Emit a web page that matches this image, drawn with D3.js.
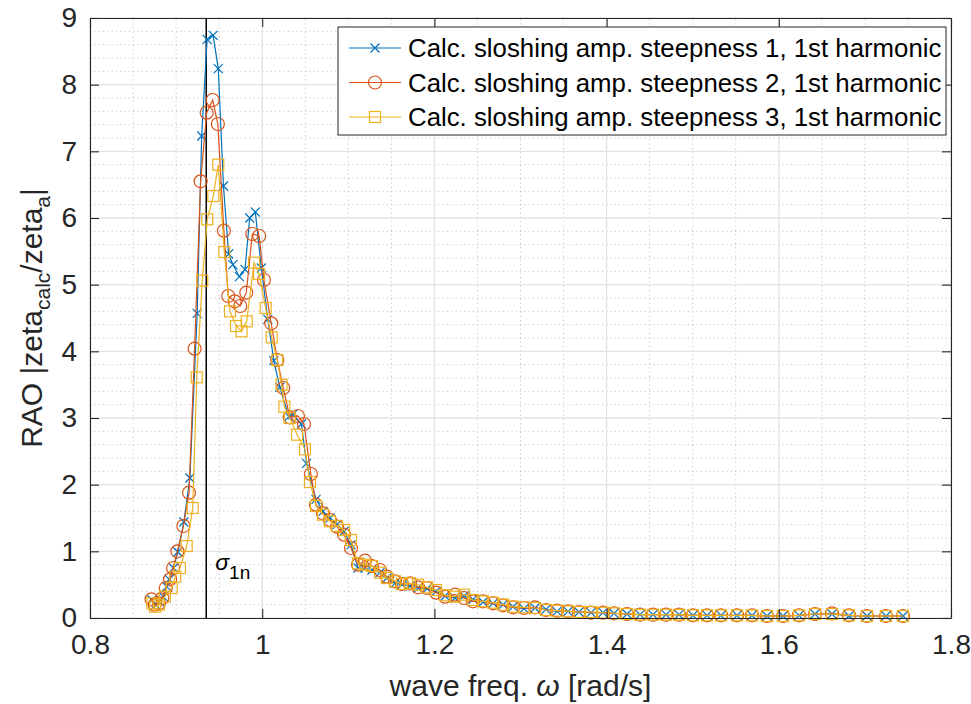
<!DOCTYPE html>
<html>
<head>
<meta charset="utf-8">
<script src="https://cdn.jsdelivr.net/npm/d3@7"></script>
<style>
body{margin:0;background:#fff}
text{font-family:"Liberation Sans",Arial,Helvetica,sans-serif;fill:#262626}
</style>
</head>
<body>
<script>
// frequencies shared by all three runs above ~1.06 rad/s
var tailX = [1.0625,1.0706,1.0787,1.0869,1.0950,1.1031,1.1113,1.1194,1.1275,1.1368,
	1.1449,1.1542,1.1624,1.1717,1.1810,1.1914,1.2019,1.2123,1.2239,1.2344,
	1.2448,1.2564,1.2681,1.2797,1.2913,1.3041,1.3168,1.3296,1.3424,1.3552,
	1.3679,1.3819,1.3958,1.4086,1.4237,1.4388,1.4539,1.4690,1.4841,1.5003,
	1.5166,1.5329,1.5515,1.5689,1.5863,1.6049,1.6235,1.6420,1.6618,1.6815,
	1.7024,1.7245,1.7443]

var s1HeadX = [0.872,0.876,0.881,0.885,0.889,0.892,0.897,0.902,0.909,0.916,
	0.9245,0.9297,0.936,0.943,0.949,0.955,0.961,0.966,0.9735,0.98,
	0.9855,0.992,0.999,1.0065,1.0135,1.0205,1.031,1.0355,1.0455,1.0515]
var s1HeadY = [0.27,0.2,0.24,0.32,0.47,0.58,0.75,0.99,1.44,2.1,
	4.57,7.23,8.68,8.74,8.24,6.48,5.46,5.3,5.12,5.23,
	6.0,6.09,5.25,4.48,3.86,3.46,3.02,3.05,2.91,2.32]
var s1TailY = [1.78,1.6,1.5,1.4,1.3,1.1,0.75,0.75,0.72,0.68,
	0.6,0.52,0.5,0.48,0.45,0.44,0.4,0.33,0.3,0.33,
	0.28,0.24,0.22,0.2,0.17,0.14,0.15,0.13,0.1,0.1,
	0.09,0.08,0.08,0.07,0.06,0.05,0.05,0.05,0.05,0.04,
	0.04,0.04,0.04,0.04,0.03,0.03,0.04,0.06,0.06,0.03,
	0.03,0.03,0.03]

var s2HeadX = [0.8715,0.875,0.88,0.884,0.888,0.893,0.8965,0.9015,0.9085,0.915,
	0.9215,0.9285,0.9355,0.9425,0.9485,0.9555,0.9605,0.968,0.9745,0.9815,
	0.9885,0.9965,1.002,1.0105,1.0175,1.0245,1.032,1.0415,1.0485,1.0565]
var s2HeadY = [0.28,0.2,0.22,0.3,0.45,0.58,0.75,1.0,1.38,1.88,
	4.04,6.55,7.58,7.77,7.41,5.81,4.83,4.75,4.68,4.88,
	5.76,5.73,5.07,4.42,3.87,3.45,3.01,3.03,2.91,2.16]
var s2TailY = [1.7,1.57,1.47,1.37,1.25,1.05,0.8,0.86,0.78,0.72,
	0.62,0.55,0.51,0.52,0.46,0.45,0.38,0.32,0.35,0.3,
	0.25,0.25,0.22,0.19,0.16,0.15,0.16,0.12,0.11,0.1,
	0.09,0.08,0.08,0.07,0.06,0.05,0.05,0.05,0.05,0.04,
	0.04,0.04,0.04,0.04,0.03,0.03,0.04,0.06,0.07,0.04,
	0.03,0.03,0.03]

var s3HeadX = [0.8725,0.8755,0.88,0.887,0.8949,0.899,0.9045,0.9123,0.9193,0.924,
	0.9304,0.9362,0.9432,0.949,0.956,0.9626,0.9696,0.976,0.982,0.9905,
	0.9963,1.004,1.011,1.0175,1.0225,1.0257,1.032,1.0405,1.0497,1.0555]
var s3HeadY = [0.22,0.17,0.2,0.32,0.45,0.62,0.75,1.08,1.65,3.61,
	5.06,5.98,6.33,6.8,5.49,4.6,4.38,4.3,4.45,5.33,
	5.16,4.65,4.21,3.87,3.5,3.17,3.0,2.75,2.53,2.04]
var s3TailY = [1.68,1.55,1.45,1.38,1.32,1.17,0.82,0.8,0.78,0.68,
	0.6,0.55,0.51,0.52,0.5,0.46,0.42,0.34,0.32,0.35,
	0.27,0.25,0.23,0.2,0.17,0.16,0.15,0.12,0.11,0.1,
	0.09,0.09,0.08,0.07,0.06,0.05,0.05,0.05,0.05,0.04,
	0.04,0.04,0.04,0.04,0.03,0.03,0.04,0.06,0.06,0.04,
	0.03,0.03,0.03]

var seriesNames = ['Calc. sloshing amp. steepness 1, 1st harmonic',
	'Calc. sloshing amp. steepness 2, 1st harmonic',
	'Calc. sloshing amp. steepness 3, 1st harmonic']
var seriesColors = ['#0072BD','#D95319','#EDB120']
var seriesMarkers = ['cross','circle','square']

var xTicks = [0.8,1,1.2,1.4,1.6,1.8]
var yTicks = [0,1,2,3,4,5,6,7,8,9]
var sigma1n = 0.935

var WIDTH = 971, HEIGHT = 704
var margin = {top:18, right:20, bottom:86, left:90}
var plotW = WIDTH - margin.left - margin.right,
	plotH = HEIGHT - margin.top - margin.bottom

var x = d3.scaleLinear().domain([0.8,1.8]).range([margin.left, margin.left+plotW])
var y = d3.scaleLinear().domain([0,9]).range([margin.top+plotH, margin.top])

function zip(xs, ys){
	return xs.map(function(v,i){ return {x:v, y:ys[i]} })
}
var series = [
	zip(s1HeadX.concat(tailX), s1HeadY.concat(s1TailY)),
	zip(s2HeadX.concat(tailX), s2HeadY.concat(s2TailY)),
	zip(s3HeadX.concat(tailX), s3HeadY.concat(s3TailY))
]

var svg = d3.select('body').append('svg')
	.attr('width',WIDTH).attr('height',HEIGHT)

// grid, minor first (dotted), then major
var grid = svg.append('g')
var minorX = d3.range(0.8,1.8001,0.05).filter(function(d){ return Math.abs(d*5-Math.round(d*5))>1e-6 })
var minorY = d3.range(0,9.0001,0.2).filter(function(d){ return Math.abs(d-Math.round(d))>1e-6 })
grid.selectAll('.mx').data(minorX).enter().append('line')
	.attr('x1',x).attr('x2',x).attr('y1',y(0)).attr('y2',y(9))
	.attr('stroke','#c8c8c8').attr('stroke-width',1).attr('stroke-dasharray','1.3,3')
grid.selectAll('.my').data(minorY).enter().append('line')
	.attr('x1',x(0.8)).attr('x2',x(1.8)).attr('y1',y).attr('y2',y)
	.attr('stroke','#c8c8c8').attr('stroke-width',1).attr('stroke-dasharray','1.3,3')
grid.selectAll('.gx').data(xTicks).enter().append('line')
	.attr('x1',x).attr('x2',x).attr('y1',y(0)).attr('y2',y(9))
	.attr('stroke','#e3e3e3').attr('stroke-width',1.3)
grid.selectAll('.gy').data(yTicks).enter().append('line')
	.attr('x1',x(0.8)).attr('x2',x(1.8)).attr('y1',y).attr('y2',y)
	.attr('stroke','#e3e3e3').attr('stroke-width',1.3)

// natural frequency marker
svg.append('line')
	.attr('x1',x(sigma1n)).attr('x2',x(sigma1n))
	.attr('y1',y(0)).attr('y2',y(9))
	.attr('stroke','#000').attr('stroke-width',1.5)

var sig = svg.append('text')
	.attr('x',x(sigma1n)+9).attr('y',y(0.72))
	.style('font-size','23px').style('fill','#000')
sig.append('tspan').text('σ').style('font-style','italic')
sig.append('tspan').text('1n').attr('dy',9).style('font-size','19px')

function drawMarker(g, type, color){
	if(type==='cross'){
		g.append('path').attr('d','M-4.5,-4.5L4.5,4.5M-4.5,4.5L4.5,-4.5')
			.attr('stroke',color).attr('stroke-width',1.2).attr('fill','none')
	} else if(type==='circle'){
		g.append('circle').attr('r',6.5)
			.attr('stroke',color).attr('stroke-width',1.2).attr('fill','none')
	} else {
		g.append('rect').attr('x',-5.5).attr('y',-5.5).attr('width',11).attr('height',11)
			.attr('stroke',color).attr('stroke-width',1.2).attr('fill','none')
	}
}

var line = d3.line().x(function(d){ return x(d.x) }).y(function(d){ return y(d.y) })

series.forEach(function(data,i){
	var g = svg.append('g')
	g.append('path').datum(data)
		.attr('d',line).attr('fill','none')
		.attr('stroke',seriesColors[i]).attr('stroke-width',1.2)
	g.selectAll('.pt').data(data).enter().append('g')
		.attr('transform',function(d){ return 'translate('+x(d.x)+','+y(d.y)+')' })
		.each(function(){ drawMarker(d3.select(this), seriesMarkers[i], seriesColors[i]) })
})

// axes, ticks pointing inward on all sides
var fmt = function(d){ return String(+d.toFixed(1)) }
var axB = svg.append('g').attr('transform','translate(0,'+y(0)+')')
	.call(d3.axisBottom(x).tickValues(xTicks).tickFormat(fmt).tickSize(-9).tickSizeOuter(0).tickPadding(16))
var axT = svg.append('g').attr('transform','translate(0,'+y(9)+')')
	.call(d3.axisTop(x).tickValues(xTicks).tickFormat('').tickSize(-9).tickSizeOuter(0))
var axL = svg.append('g').attr('transform','translate('+x(0.8)+',0)')
	.call(d3.axisLeft(y).tickValues(yTicks).tickFormat(fmt).tickSize(-9).tickSizeOuter(0).tickPadding(13))
var axR = svg.append('g').attr('transform','translate('+x(1.8)+',0)')
	.call(d3.axisRight(y).tickValues(yTicks).tickFormat('').tickSize(-9).tickSizeOuter(0))
;[axB,axT,axL,axR].forEach(function(a){
	a.selectAll('path,line').attr('stroke','#262626').attr('stroke-width',1.1)
	a.selectAll('text').style('font-size','28px').attr('fill','#262626')
		.style('font-family','"Liberation Sans",Arial,sans-serif')
})

// axis titles
var xl = svg.append('text')
	.attr('x',x(1.3)).attr('y',696).attr('text-anchor','middle')
	.style('font-size','30px')
xl.append('tspan').text('wave freq. ')
xl.append('tspan').text('ω').style('font-style','italic')
xl.append('tspan').text(' [rad/s]')

var yl = svg.append('text')
	.attr('transform','translate(42,'+y(4.5)+') rotate(-90)')
	.attr('text-anchor','middle')
	.style('font-size','30px')
yl.append('tspan').text('RAO |zeta')
yl.append('tspan').text('calc').attr('dy',8).style('font-size','21px')
yl.append('tspan').text('/zeta').attr('dy',-8)
yl.append('tspan').text('a').attr('dy',8).style('font-size','21px')
yl.append('tspan').text('|').attr('dy',-8)

// legend
var lg = svg.append('g').attr('transform','translate(338,27)')
lg.append('rect').attr('width',608).attr('height',108)
	.attr('fill','#fff').attr('stroke','#262626').attr('stroke-width',1)
seriesNames.forEach(function(name,i){
	var row = lg.append('g').attr('transform','translate(0,'+(21+i*34.5)+')')
	row.append('line').attr('x1',11).attr('x2',63).attr('y1',0).attr('y2',0)
		.attr('stroke',seriesColors[i]).attr('stroke-width',1.2)
	var m = row.append('g').attr('transform','translate(37,0)')
	drawMarker(m, seriesMarkers[i], seriesColors[i])
	row.append('text').attr('x',70).attr('y',0).attr('dy','0.35em')
		.style('font-size','25.8px').style('fill','#000').text(name)
})
</script>
</body>
</html>
